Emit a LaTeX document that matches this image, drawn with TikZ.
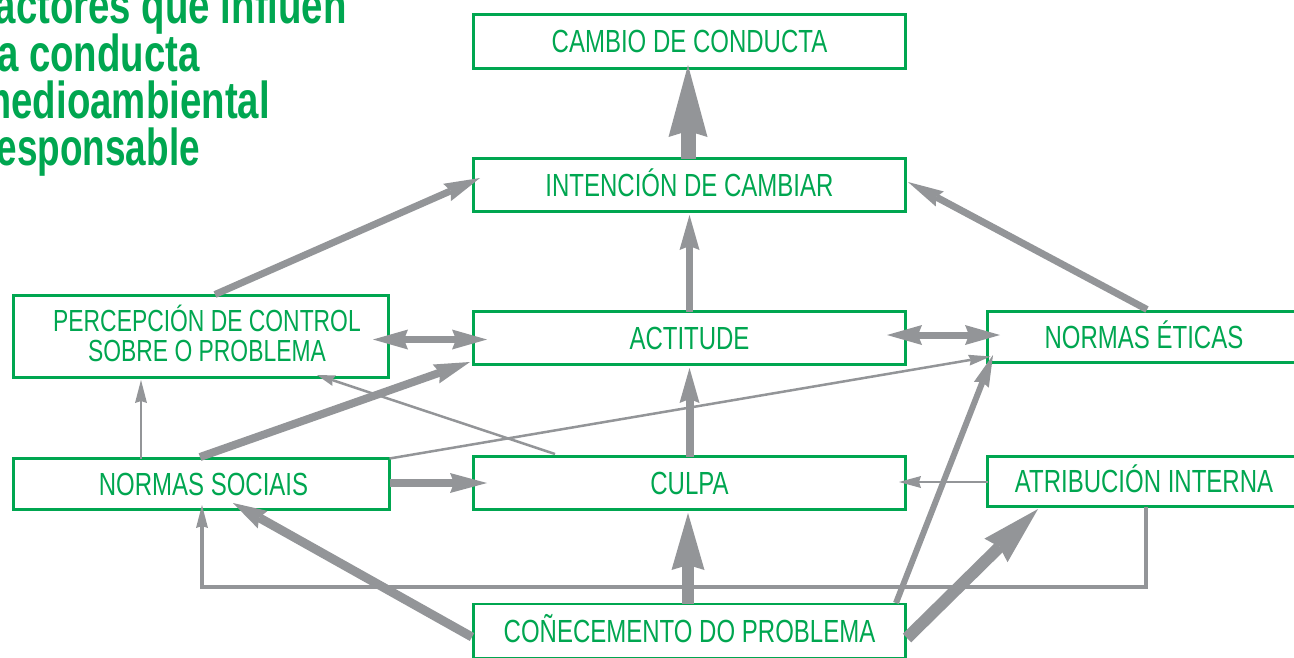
\documentclass[tikz,border=0pt]{standalone}
\usepackage{fontspec}
\setmainfont{Liberation Sans}[FakeStretch=0.75]
\newfontfamily\titlefont{Liberation Sans}[FakeStretch=0.71]
\usetikzlibrary{arrows.meta,calc}
\definecolor{vgreen}{RGB}{0,166,80}
\definecolor{agray}{RGB}{147,149,152}
\begin{document}
\begin{tikzpicture}[x=1pt,y=-1pt,
  box/.style={draw=vgreen, line width=2.6pt, inner sep=0pt, outer sep=0pt, text=vgreen,
    font=\fontsize{32}{30}\selectfont, align=center},
  onel/.style={text height=22pt, text depth=0pt},
  arr/.style={draw=agray, line width=#1, line join=miter},
  ah/.style n args={3}{-{Stealth[length=#1pt,width=#2pt,inset=#3pt,line width=0pt]}},
  dah/.style n args={3}{{Stealth[length=#1pt,width=#2pt,inset=#3pt,line width=0pt]}-{Stealth[length=#1pt,width=#2pt,inset=#3pt,line width=0pt]}},
  ttl/.style={anchor=base east, text=vgreen, inner sep=0pt, font=\titlefont\bfseries\fontsize{52}{47}\selectfont}
]
\useasboundingbox (0,0) rectangle (1294,657);
\clip (0,0) rectangle (1294,657);

% title
\node[ttl] (t1) at (347,23) {\scalebox{1.04}[1]{Factores que influen}};
\node[ttl] (t2) at (200,71) {\scalebox{1.04}[1]{na conducta}};
\node[ttl] (t3) at (270,118) {\scalebox{1.04}[1]{medioambiental}};
\node[ttl] (t4) at (200,165) {responsable};

% boxes
\node[box, onel, minimum width=432pt, minimum height=54pt] (cambio) at (689.5,41.5) {CAMBIO DE CONDUCTA};
\node[box, onel, minimum width=432pt, minimum height=53pt] (intencion) at (689.5,185) {INTENCIÓN DE CAMBIAR};
\node[box, minimum width=375pt, minimum height=82pt, font=\fontsize{30.5}{30}\selectfont] (percep) at (201,336.5)
  {\raisebox{-1.5pt}[\height][\depth]{\begin{tabular}{@{}c@{}}\hspace*{12pt}PERCEPCIÓN DE CONTROL\\\hspace*{12pt}SOBRE O PROBLEMA\end{tabular}}};
\node[box, onel, minimum width=432pt, minimum height=53pt] (actitude) at (689.5,338) {ACTITUDE};
\node[box, onel, minimum width=313pt, minimum height=51pt] (neticas) at (1144,337) {NORMAS ÉTICAS};
\node[box, onel, minimum width=376pt, minimum height=51pt] (nsociais) at (201.5,484) {\hspace*{4pt}NORMAS SOCIAIS};
\node[box, onel, minimum width=432pt, minimum height=53pt] (culpa) at (689.5,483) {CULPA};
\node[box, onel, minimum width=313pt, minimum height=50pt] (atrib) at (1144,481.5) {ATRIBUCIÓN INTERNA};
\node[box, onel, minimum width=432pt, minimum height=54pt] (conec) at (689.5,631) {COÑECEMENTO DO PROBLEMA};

% connectors
\draw[arr=15pt, ah={72}{39}{6}] ($(intencion.north)+(-1.5,0)$) -- ($(cambio.south)+(-1.5,-3.5)$);
\draw[arr=7pt, ah={35}{20}{4}] (actitude.north) -- ($(intencion.south)+(0,3.5)$);
\draw[arr=7pt, ah={36}{19}{4}] ($(percep.north)+(14,-1)$) -- ($(intencion.west)+(6.5,-7)$);
\draw[arr=7pt, ah={36}{17}{4}] ($(neticas.north)+(3,-2)$) -- ($(intencion.east)+(2.5,-3)$);
\draw[arr=7pt, dah={35}{20}{4}] ($(percep.east)+(-15.5,3)$) -- ($(actitude.west)+(13.5,1.5)$);
\draw[arr=7pt, dah={35}{20}{4}] ($(actitude.east)+(-18.5,-3)$) -- ($(neticas.west)+(12.5,-2)$);
\draw[arr=8pt, ah={36}{20}{4}] ($(nsociais.north)+(-1.5,-1.5)$) -- ($(actitude.south west)+(-3.5,-2.5)$);
\draw[arr=2.5pt, ah={18}{11}{2}] ($(culpa.north west)+(81.5,-2.5)$) -- ($(percep.south)+(116,-2.5)$);
\draw[arr=2.5pt, ah={22}{11}{2}] (nsociais.north east) -- ($(neticas.south west)+(3,-6)$);
\draw[arr=2.5pt, ah={23}{12}{2}] ($(nsociais.north west)+(127.5,0)$) -- ($(percep.south west)+(127.5,2.5)$);
\draw[arr=8pt, ah={35}{20}{4}] (culpa.north) -- ($(actitude.south)+(0,3.5)$);
\draw[arr=8pt, ah={37}{20}{4}] ($(nsociais.east)+(0,-1)$) -- ($(culpa.west)+(13.5,0)$);
\draw[arr=2.5pt, ah={22}{12}{2}] ($(atrib.west)+(0,0.5)$) -- ($(culpa.east)+(-6.5,-1)$);
\draw[arr=11.5pt, ah={57}{33}{5}] ($(conec.north)+(-1.5,0)$) -- ($(culpa.south)+(-1.5,3.5)$);
\draw[arr=9pt, ah={34}{20}{4}] ($(conec.west)+(-1.5,6)$) -- ($(nsociais.south west)+(219.5,-6.5)$);
\draw[arr=6pt, ah={32}{16}{3}] ($(conec.north east)+(-9.5,-1)$) -- ($(neticas.south west)+(5.5,-7.5)$);
\draw[arr=12pt, ah={59}{33}{5}] ($(conec.east)+(1.5,7)$) -- ($(atrib.south west)+(50.5,2.5)$);
\draw[arr=4.5pt, ah={23}{12}{2}] ($(atrib.south)+(2,0)$) -- ++(0,80.5) -| ($(nsociais.south west)+(188.5,-4.5)$);
\end{tikzpicture}
\end{document}
